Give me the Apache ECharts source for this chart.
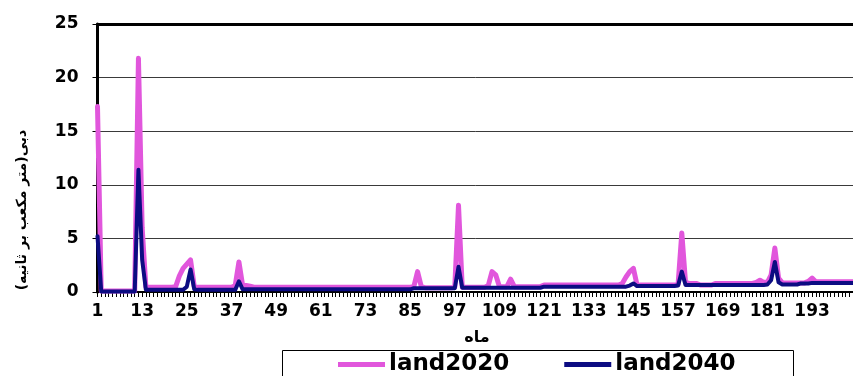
<!DOCTYPE html>
<html>
<head>
<meta charset="utf-8">
<script src="https://cdn.jsdelivr.net/npm/echarts@6/dist/echarts.min.js"></script>
<style>
  html, body { margin: 0; padding: 0; background: #fff; }
  #chart { width: 853px; height: 376px; }
</style>
</head>
<body>
<div id="chart"></div>
<script>
// Monthly discharge (m3/s) for two land-use scenarios, months 1..204
const land2020 = [
  17.3, 0.1, 0.1, 0.1, 0.1, 0.1, 0.1, 0.1, 0.1, 0.1, 0.1, 21.8,
  6.0, 0.45, 0.45, 0.45, 0.45, 0.45, 0.45, 0.45, 0.45, 0.5, 1.5, 2.2,
  2.6, 3.0, 0.5, 0.45, 0.45, 0.45, 0.45, 0.45, 0.45, 0.45, 0.45, 0.45,
  0.45, 0.6, 2.8, 0.6, 0.6, 0.55, 0.45, 0.45, 0.45, 0.45, 0.45, 0.45,
  0.45, 0.45, 0.45, 0.45, 0.45, 0.45, 0.45, 0.45, 0.45, 0.45, 0.45, 0.45,
  0.45, 0.45, 0.45, 0.45, 0.45, 0.45, 0.45, 0.45, 0.45, 0.45, 0.45, 0.45,
  0.45, 0.45, 0.45, 0.45, 0.45, 0.45, 0.45, 0.45, 0.45, 0.45, 0.45, 0.45,
  0.45, 0.5, 1.9, 0.5, 0.4, 0.4, 0.4, 0.4, 0.4, 0.4, 0.4, 0.4,
  0.45, 8.1, 0.45, 0.45, 0.45, 0.45, 0.45, 0.45, 0.45, 0.6, 1.9, 1.6,
  0.5, 0.5, 0.5, 1.2, 0.5, 0.5, 0.5, 0.5, 0.5, 0.5, 0.5, 0.5,
  0.65, 0.65, 0.65, 0.65, 0.65, 0.65, 0.65, 0.65, 0.65, 0.65, 0.65, 0.65,
  0.65, 0.65, 0.65, 0.65, 0.65, 0.65, 0.65, 0.65, 0.65, 0.8, 1.4, 1.9,
  2.2, 0.6, 0.65, 0.65, 0.65, 0.65, 0.65, 0.65, 0.65, 0.65, 0.65, 0.65,
  0.7, 5.5, 0.9, 0.8, 0.8, 0.8, 0.65, 0.65, 0.65, 0.65, 0.8, 0.8,
  0.8, 0.8, 0.8, 0.8, 0.8, 0.8, 0.8, 0.8, 0.8, 0.9, 1.1, 0.9,
  0.9, 1.6, 4.1, 1.3, 0.85, 0.85, 0.85, 0.85, 0.85, 0.85, 0.85, 1.0,
  1.3, 0.95, 0.95, 0.95, 0.95, 0.95, 0.95, 0.95, 0.95, 0.95, 0.95, 0.95
];

const land2040 = [
  5.2, 0.05, 0.05, 0.05, 0.05, 0.05, 0.05, 0.05, 0.05, 0.05, 0.05, 11.4,
  3.0, 0.2, 0.2, 0.2, 0.2, 0.2, 0.2, 0.2, 0.2, 0.2, 0.2, 0.2,
  0.5, 2.1, 0.25, 0.2, 0.2, 0.2, 0.2, 0.2, 0.2, 0.2, 0.2, 0.2,
  0.2, 0.2, 1.0, 0.25, 0.25, 0.25, 0.25, 0.25, 0.25, 0.25, 0.25, 0.25,
  0.25, 0.25, 0.25, 0.25, 0.25, 0.25, 0.25, 0.25, 0.25, 0.25, 0.25, 0.25,
  0.25, 0.25, 0.25, 0.25, 0.25, 0.25, 0.25, 0.25, 0.25, 0.25, 0.25, 0.25,
  0.25, 0.25, 0.25, 0.25, 0.25, 0.25, 0.25, 0.25, 0.25, 0.25, 0.25, 0.25,
  0.25, 0.35, 0.35, 0.35, 0.35, 0.35, 0.35, 0.35, 0.35, 0.35, 0.35, 0.35,
  0.35, 2.35, 0.4, 0.4, 0.4, 0.4, 0.4, 0.4, 0.4, 0.4, 0.4, 0.4,
  0.4, 0.4, 0.4, 0.4, 0.4, 0.4, 0.4, 0.4, 0.4, 0.4, 0.4, 0.4,
  0.5, 0.5, 0.5, 0.5, 0.5, 0.5, 0.5, 0.5, 0.5, 0.5, 0.5, 0.5,
  0.5, 0.5, 0.5, 0.5, 0.5, 0.5, 0.5, 0.5, 0.5, 0.5, 0.5, 0.6,
  0.8, 0.55, 0.55, 0.55, 0.55, 0.55, 0.55, 0.55, 0.55, 0.55, 0.55, 0.55,
  0.6, 1.9, 0.65, 0.65, 0.65, 0.65, 0.65, 0.65, 0.65, 0.65, 0.65, 0.65,
  0.65, 0.65, 0.65, 0.65, 0.65, 0.65, 0.65, 0.65, 0.65, 0.65, 0.65, 0.65,
  0.7, 1.1, 2.8, 0.9, 0.7, 0.7, 0.7, 0.7, 0.7, 0.8, 0.8, 0.8,
  0.85, 0.85, 0.85, 0.85, 0.85, 0.85, 0.85, 0.85, 0.85, 0.85, 0.85, 0.85
];

// Month numbers used as category labels
const months = land2020.map((_, i) => String(i + 1));

const seriesNames = ['land2020', 'land2040'];
const yTicks = { min: 0, max: 25, interval: 5 };
const xAxisTitle = 'ماه';
const yAxisTitle = 'دبی(متر مکعب بر ثانیه)';

const FONT = 'DejaVu Sans';
const PINK = '#e156dc';
const NAVY = '#0c0c82';

const chart = echarts.init(document.getElementById('chart'), null, { renderer: 'canvas' });

chart.setOption({
  animation: false,
  backgroundColor: '#ffffff',
  grid: { left: 97.5, right: -8, top: 24, bottom: 84, containLabel: false },
  legend: {
    data: seriesNames,
    left: 338,
    top: 353,
    icon: 'rect',
    itemWidth: 47,
    itemHeight: 5,
    itemGap: 55,
    padding: 0,
    textStyle: { fontFamily: FONT, fontWeight: 'bold', fontSize: 23, color: '#000', lineHeight: 22, padding: [0, 0, 0, -1] }
  },
  xAxis: [
    {
      type: 'category',
      data: months,
      boundaryGap: false,
      axisLine: { show: true, onZero: false, lineStyle: { color: '#000', width: 2 } },
      axisTick: { show: true, interval: 0, length: 5, lineStyle: { color: '#000', width: 1 } },
      axisLabel: { interval: 11, margin: 11, color: '#000', fontFamily: FONT, fontWeight: 'bold', fontSize: 17 },
      splitLine: { show: false }
    },
    {
      // plain top border of the plot area
      type: 'category',
      data: months,
      boundaryGap: false,
      position: 'top',
      axisLine: { show: true, onZero: false, lineStyle: { color: '#000', width: 3 } },
      axisTick: { show: false },
      axisLabel: { show: false },
      splitLine: { show: false }
    }
  ],
  yAxis: {
    type: 'value',
    min: yTicks.min,
    max: yTicks.max,
    interval: yTicks.interval,
    axisLine: { show: true, lineStyle: { color: '#000', width: 3 } },
    axisTick: { show: true, length: 5, lineStyle: { color: '#000', width: 1 } },
    axisLabel: { margin: 19, color: '#000', fontFamily: FONT, fontWeight: 'bold', fontSize: 17 },
    splitLine: { show: true, lineStyle: { color: '#3a3a3a', width: 1 } }
  },
  series: [
    {
      name: seriesNames[0],
      type: 'line',
      data: land2020,
      showSymbol: false,
      symbol: 'none',
      color: PINK,
      lineStyle: { color: PINK, width: 5, cap: 'round', join: 'round' },
      z: 2
    },
    {
      name: seriesNames[1],
      type: 'line',
      data: land2040,
      showSymbol: false,
      symbol: 'none',
      color: NAVY,
      lineStyle: { color: NAVY, width: 4, cap: 'round', join: 'round' },
      z: 3
    }
  ],
  graphic: [
    {
      type: 'rect',
      shape: { x: 282.5, y: 350.5, width: 511, height: 40 },
      style: { fill: 'none', stroke: '#000', lineWidth: 1 },
      silent: true
    },
    {
      type: 'text',
      x: 477,
      y: 338,
      style: { text: xAxisTitle, fontFamily: FONT, fontWeight: 'bold', fontSize: 16, fill: '#000', align: 'center', verticalAlign: 'middle' }
    },
    {
      type: 'text',
      x: 22,
      y: 210,
      rotation: Math.PI / 2,
      style: { text: yAxisTitle, fontFamily: FONT, fontWeight: 'bold', fontSize: 14, fill: '#000', align: 'center', verticalAlign: 'middle' }
    }
  ]
});
</script>
</body>
</html>
